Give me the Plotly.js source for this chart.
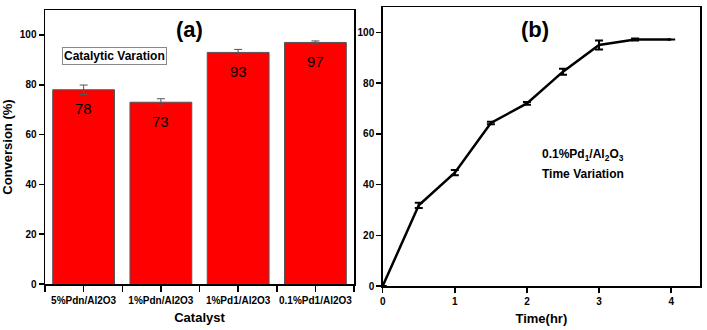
<!DOCTYPE html>
<html>
<head>
<meta charset="utf-8">
<script src="https://cdn.plot.ly/plotly-3.0.1.min.js"></script>
<style>
  body { margin: 0; background: #fff; }
  #chart { width: 707px; height: 330px; }
</style>
</head>
<body>
<div id="chart"></div>
<script>
// panel (a) - catalyst comparison
const catalysts = ['5%Pdn/Al2O3', '1%Pdn/Al2O3', '1%Pd1/Al2O3', '0.1%Pd1/Al2O3'];
const conversion = [78, 73, 93, 97];
const conversionErr = [1.9, 1.4, 1.2, 0.6];

// panel (b) - time variation
const timeHr = [0, 0.5, 1, 1.5, 2, 2.5, 3, 3.5, 4];
const timeConversion = [0, 31.8, 44.7, 64.3, 72, 84.5, 95, 97.2, 97.2];
const timeErr = [0, 1, 1, 0.5, 0.5, 1.2, 1.8, 0.4, 0];

const boldFont = { family: 'Arial, Liberation Sans, sans-serif', color: '#000', weight: 'bold' };

// bars sit at integer positions; ticks at centres and at the gaps between bars
const barPos = catalysts.map((c, i) => i);
const catTickVals = [];
const catTickText = [];
catalysts.forEach((c, i) => {
    catTickVals.push(i - 0.5, i);
    catTickText.push('', c);
});
catTickVals.push(catalysts.length - 0.5);
catTickText.push('');

const data = [
    {
        type: 'bar',
        x: barPos,
        y: conversion,
        width: 0.8,
        marker: { color: '#ff0000', line: { color: '#555', width: 1 } },
        error_y: { type: 'data', array: conversionErr, visible: true, color: '#555', thickness: 1, width: 4 },
        xaxis: 'x', yaxis: 'y',
        hoverinfo: 'skip'
    },
    {
        type: 'scatter',
        mode: 'lines',
        x: timeHr,
        y: timeConversion,
        line: { color: '#000', width: 2.5 },
        error_y: { type: 'data', array: timeErr, visible: true, color: '#000', thickness: 2, width: 4 },
        xaxis: 'x2', yaxis: 'y2',
        hoverinfo: 'skip'
    }
];

const axisCommon = {
    showline: true, linecolor: '#000', linewidth: 1.5, mirror: true,
    ticks: 'outside', ticklen: 5, tickwidth: 1.5, tickcolor: '#000',
    showgrid: false, zeroline: false,
    tickfont: Object.assign({ size: 10 }, boldFont)
};

// value labels sitting inside the top of each bar
const barLabels = barPos.map((x, i) => ({
    x: x, y: conversion[i], xref: 'x', yref: 'y',
    text: String(conversion[i]), showarrow: false,
    yshift: -19, font: { family: 'Arial, Liberation Sans, sans-serif', size: 15, color: '#000' }
}));

function note(x, y, text, size, extra) {
    return Object.assign({
        x: x, y: y, xref: 'paper', yref: 'paper', xanchor: 'center', yanchor: 'middle',
        text: text, showarrow: false, font: Object.assign({ size: size }, boldFont)
    }, extra || {});
}

const layout = {
    width: 707, height: 330,
    margin: { l: 45, r: 7, t: 7, b: 44 },
    paper_bgcolor: '#fff', plot_bgcolor: '#fff',
    showlegend: false,
    xaxis: Object.assign({}, axisCommon, {
        domain: [0, 0.4718], range: [-0.5, 3.5],
        tickmode: 'array', tickvals: catTickVals, ticktext: catTickText, ticklen: 6,
        title: { text: 'Catalyst', font: Object.assign({ size: 13 }, boldFont), standoff: 8 }
    }),
    yaxis: Object.assign({}, axisCommon, {
        domain: [0.007, 0.989], range: [0, 110], dtick: 20,
        title: { text: 'Conversion (%)', font: Object.assign({ size: 13 }, boldFont), standoff: 6 }
    }),
    xaxis2: Object.assign({}, axisCommon, {
        domain: [0.5156, 1], range: [0, 4.4], dtick: 1, anchor: 'y2',
        title: { text: 'Time(hr)', font: Object.assign({ size: 13 }, boldFont), standoff: 8 }
    }),
    yaxis2: Object.assign({}, axisCommon, {
        domain: [0, 1], range: [0, 110], dtick: 20, anchor: 'x2'
    }),
    annotations: barLabels.concat([
        note(0.22, 0.918, '(a)', 22),
        note(0.748, 0.918, '(b)', 22),
        note(0.026, 0.824, 'Catalytic Varation', 12,
             { xanchor: 'left', bgcolor: '#fff', bordercolor: '#888', borderwidth: 1, borderpad: 1 }),
        note(0.821, 0.47, '0.1%Pd<sub>1</sub>/Al<sub>2</sub>O<sub>3</sub>', 12),
        note(0.821, 0.401, 'Time Variation', 12)
    ])
};

Plotly.newPlot('chart', data, layout, { staticPlot: true });
</script>
</body>
</html>
